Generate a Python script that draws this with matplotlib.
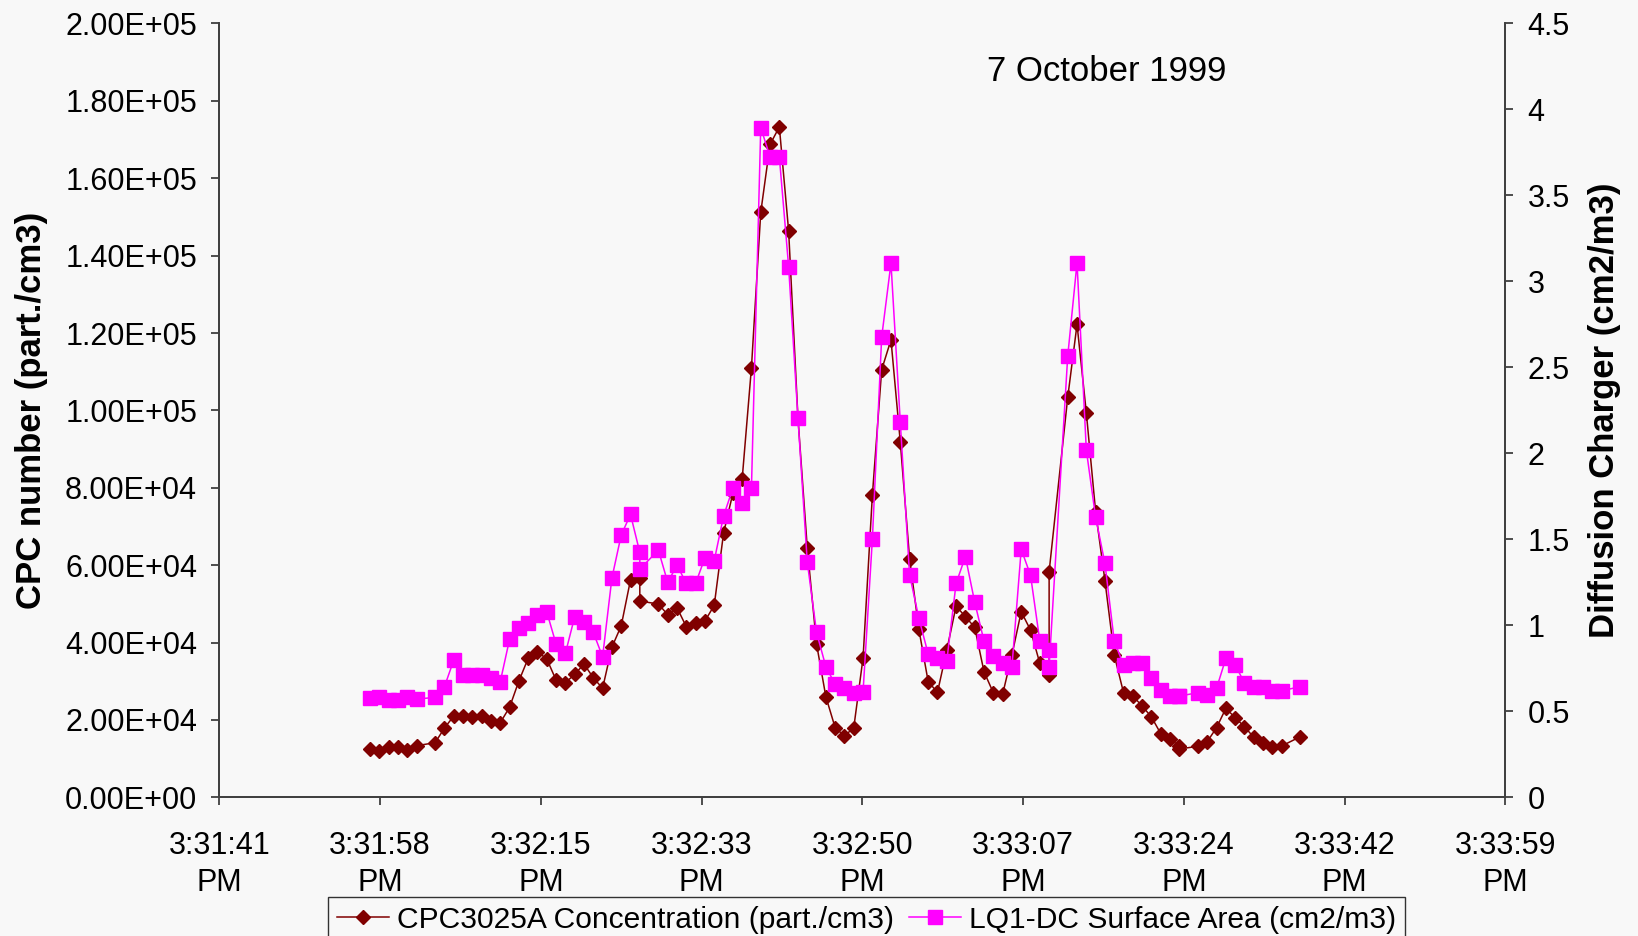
import matplotlib
matplotlib.use("Agg")
import matplotlib.pyplot as plt
from matplotlib.ticker import FuncFormatter, MultipleLocator, FixedLocator

plt.rcParams['font.family'] = ['Liberation Sans', 'DejaVu Sans']

# sample times in seconds after 15:31:00 (logger clock, 1 s resolution)
t_cpc = [57, 58, 59, 60, 61, 62, 64, 65, 66, 67, 68, 69, 70, 71, 72, 73, 74, 75, 76, 77,
         78, 79, 80, 81, 82, 83, 84, 85, 86, 86, 88, 89, 90, 91, 92, 93, 94, 95, 96, 97,
         98, 99, 100, 101, 102, 103, 104, 105, 106, 107, 108, 109, 110, 111, 112, 113, 114, 115, 116, 117,
         118, 119, 120, 121, 122, 123, 124, 125, 126, 127, 128, 129, 130, 130, 132, 133, 134, 135, 136, 137,
         138, 139, 140, 141, 142, 143, 144, 144, 146, 147, 148, 149, 150, 151, 152, 153, 154, 155, 157]
cpc = [12400, 12040, 13080, 13080, 12220, 13330, 14110, 17900, 21000, 21000, 20670, 21000, 19790, 19280, 23260, 30050, 35920, 37620, 35740, 30300,
       29610, 31780, 34440, 30900, 28170, 38800, 44300, 56200, 56590, 50720, 49950, 47200, 49000, 44080, 45000, 45560, 49600, 68220, 78550, 82170,
       111010, 151160, 168730, 173280, 146330, 98090, 64500, 39610, 26000, 17990, 15840, 17990, 36070, 78070, 110510, 118240, 91840, 61700, 43410, 29870,
       27130, 38060, 49430, 46670, 43930, 32460, 27030, 26610, 36770, 47960, 43230, 34630, 31600, 58300, 103360, 122220, 99380, 73800, 56000, 36770,
       27030, 26180, 23590, 20750, 16450, 15030, 13260, 12500, 13170, 14400, 17990, 23000, 20570, 18240, 15500, 13950, 13080, 13260, 15660]

t_lq = [57, 58, 59, 60, 61, 62, 64, 65, 66, 67, 68, 69, 70, 71, 72, 73, 74, 75, 76, 77,
        78, 79, 80, 81, 82, 83, 84, 85, 86, 86, 88, 89, 90, 91, 92, 93, 94, 95, 96, 97,
        98, 99, 100, 101, 102, 103, 104, 105, 106, 107, 108, 109, 110, 111, 112, 113, 114, 115, 116, 117,
        118, 119, 120, 121, 122, 123, 124, 125, 126, 127, 128, 129, 130, 130, 132, 133, 134, 135, 136, 137,
        138, 139, 140, 141, 142, 143, 144, 144, 146, 147, 148, 149, 150, 151, 152, 153, 154, 155, 157]
lq = [0.576, 0.581, 0.566, 0.566, 0.581, 0.571, 0.581, 0.643, 0.798, 0.713, 0.713, 0.709, 0.692, 0.672, 0.919, 0.983, 1.015, 1.060, 1.078, 0.891,
      0.837, 1.050, 1.017, 0.959, 0.817, 1.275, 1.525, 1.645, 1.424, 1.327, 1.437, 1.250, 1.350, 1.244, 1.244, 1.393, 1.376, 1.635, 1.797, 1.713,
      1.797, 3.895, 3.724, 3.724, 3.085, 2.207, 1.370, 0.959, 0.759, 0.657, 0.634, 0.608, 0.614, 1.502, 2.676, 3.106, 2.182, 1.294, 1.041, 0.833,
      0.808, 0.794, 1.244, 1.400, 1.135, 0.909, 0.823, 0.783, 0.757, 1.442, 1.292, 0.909, 0.856, 0.759, 2.566, 3.108, 2.019, 1.628, 1.360, 0.909,
      0.769, 0.779, 0.779, 0.692, 0.624, 0.589, 0.589, 0.589, 0.608, 0.592, 0.634, 0.808, 0.769, 0.666, 0.643, 0.643, 0.618, 0.620, 0.643]

BASE = 15 * 3600 + 31 * 60      # 15:31:00 in seconds of the day
X_STEP = 17.28                  # 0.0002 day between time ticks
X_MIN = 55900.8 - BASE          # axis start, a multiple of the tick step
N_STEPS = 8

BG = '#f8f8f8'
CPC_COLOR = '#800000'
LQ_COLOR = '#ff00ff'
FS = 22


def time_label(x, pos):
    s = int(round(BASE + x))
    h, m, sec = s // 3600, s % 3600 // 60, s % 60
    return f"{h - 12}:{m:02d}:{sec:02d}\nPM"


fig = plt.figure(figsize=(16.38, 9.36), dpi=100, facecolor=BG)
ax = fig.add_axes([0.1339, 0.1482, 0.7851, 0.8267], facecolor=BG)
ax2 = ax.twinx()

ax.plot(t_cpc, cpc, color=CPC_COLOR, lw=1.1, marker='D', ms=7.5,
        mec=CPC_COLOR, mfc=CPC_COLOR, label='CPC3025A Concentration (part./cm3)')
ax2.plot(t_lq, lq, color=LQ_COLOR, lw=1.1, marker='s', ms=10,
         mec=LQ_COLOR, mfc=LQ_COLOR, label='LQ1-DC Surface Area (cm2/m3)')

# x axis: clock time
ax.set_xlim(X_MIN, X_MIN + N_STEPS * X_STEP)
ax.xaxis.set_major_locator(FixedLocator([X_MIN + i * X_STEP for i in range(N_STEPS + 1)]))
ax.xaxis.set_major_formatter(FuncFormatter(time_label))

# left axis: particle number
ax.set_ylim(0, 2.0e5)
ax.yaxis.set_major_locator(MultipleLocator(2.0e4))
ax.yaxis.set_major_formatter(FuncFormatter(lambda v, p: f"{v:.2E}"))
ax.set_ylabel('CPC number (part./cm3)', fontsize=25, fontweight='bold', labelpad=12)

# right axis: surface area
ax2.set_ylim(0, 4.5)
ax2.yaxis.set_major_locator(MultipleLocator(0.5))
ax2.yaxis.set_major_formatter(FuncFormatter(lambda v, p: f"{v:g}"))
ax2.set_ylabel('Diffusion Charger (cm2/m3)', fontsize=25, fontweight='bold', labelpad=13)

for a in (ax, ax2):
    a.spines['top'].set_visible(False)
    for s in ('left', 'right', 'bottom'):
        a.spines[s].set_color('#404040')
        a.spines[s].set_linewidth(1.3)
    a.tick_params(direction='out', length=6, width=1.3, color='#404040',
                  labelsize=FS, pad=10)
ax.tick_params(axis='x', pad=18)
for lbl in ax.get_xticklabels():
    lbl.set_linespacing(1.33)

ax.text(0.69, 0.938, '7 October 1999', transform=ax.transAxes, fontsize=25,
        ha='center', va='center')

h1, l1 = ax.get_legend_handles_labels()
h2, l2 = ax2.get_legend_handles_labels()
leg = fig.legend(h1 + h2, l1 + l2, loc='upper center', bbox_to_anchor=(0.529, 0.042),
                 ncol=2, fontsize=21.6, frameon=True, fancybox=False, edgecolor='black',
                 facecolor=BG, handlelength=1.75, handletextpad=0.25, columnspacing=0.5,
                 borderpad=0.3, borderaxespad=0)
leg.get_frame().set_linewidth(1.0)

fig.savefig('out.png', dpi=100, facecolor=BG)
